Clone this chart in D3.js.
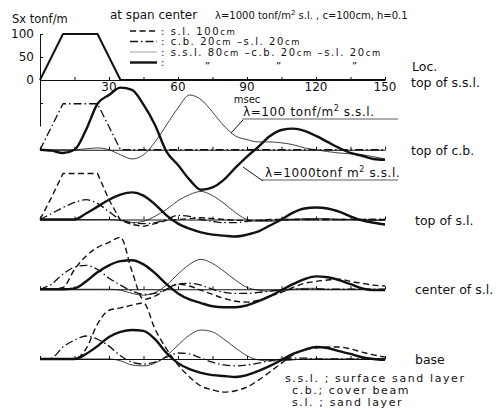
<!DOCTYPE html>
<html>
<head>
<meta charset="utf-8">
<script src="https://cdn.jsdelivr.net/npm/d3@7"></script>
<style>
  body { margin: 0; background: #fff; }
  text { font-family: "DejaVu Sans", "Liberation Sans", sans-serif; fill: #111; }
  .domain, .tick line { stroke: #111; stroke-width: 1; }
</style>
</head>
<body>
<div id="chart"></div>
<script>
// time axis, msec
var times = [0,5,10,15,20,25,30,35,40,45,50,55,60,65,70,75,80,85,90,95,100,105,110,115,120,125,130,135,140,145,150];
var locations = ["top of s.s.l.", "top of c.b.", "top of s.l.", "center of s.l.", "base"];
var tickLabels = [30, 60, 90, 120, 150];

// load at top of s.s.l. (tonf/m)
var loadTop = [0,50,100,100,100,100,50,0,0,0,0,0,0,0,0,0,0,0,0,0,0,0,0,0,0,0,0,0,0,0,0];

// top of c.b.
var cbDashDot = [0,50,100,100,100,100,50,0,0,0,0,0,0,0,0,0,0,0,0,0,0,0,0,0,0,0,0,0,0,0,0];
var cbThin    = [0,0,0,0,2,4,0,-11,-20,-11,17,54,91,119,109,82,52,30,22,17,17,15,11,4,0,-4,-7,-9,-11,-15,-20];
var cbThick   = [0,-2,-7,0,43,100,119,135,130,98,54,-4,-33,-65,-87,-82,-65,-39,-15,7,30,43,46,41,30,17,4,-7,-13,-20,-22];

// top of s.l.
var slDashed  = [0,48,100,100,100,100,43,-2,-11,-15,-9,-2,0,2,4,2,0,-2,-2,-2,0,0,0,0,0,0,0,0,0,0,0];
var slDashDot = [0,13,26,37,43,35,17,0,-7,-9,-7,0,9,7,0,-4,-7,-7,-4,-2,-2,0,0,0,0,0,0,0,0,0,0];
var slThin    = [0,0,0,0,0,0,0,-2,-7,-4,7,22,41,54,61,52,35,15,0,-4,-4,-2,0,2,2,2,0,0,0,-2,-2];
var slThick   = [0,0,0,0,13,28,43,54,59,52,33,9,-9,-20,-28,-33,-35,-37,-33,-26,-13,0,15,24,26,24,17,7,-2,-7,-11];

// center of s.l.
var ctDashed  = [0,0,4,43,72,91,102,113,39,-22,-15,0,11,7,-2,-11,-20,-26,-28,-24,-15,-7,4,13,17,20,22,17,13,9,7];
var ctDashDot = [0,11,33,48,52,43,24,9,-4,-11,-9,0,11,13,9,0,-7,-9,-9,-7,-4,-2,0,0,0,0,0,0,0,0,0];
var ctThin    = [0,0,0,0,0,0,0,-2,-9,-13,-7,9,33,54,65,56,39,20,4,-2,-4,-2,0,2,2,0,0,0,0,0,0];
var ctThick   = [0,0,0,2,17,37,52,61,63,54,35,11,-9,-22,-30,-37,-39,-39,-35,-26,-15,-2,11,22,28,26,20,11,2,-2,-2];

// base
var bsDashed  = [0,0,0,0,22,76,106,111,117,122,65,22,-13,-39,-59,-67,-72,-69,-61,-46,-28,-9,9,20,24,26,26,22,15,9,4];
var bsDashDot = [0,2,26,41,50,43,28,7,-7,-11,-7,4,13,11,2,-7,-13,-15,-13,-9,-4,0,2,2,0,0,0,0,0,0,0];
var bsThin    = [0,0,0,0,0,0,0,-4,-13,-15,-9,7,30,52,63,59,43,24,7,-2,-4,-4,-2,0,0,0,0,0,0,0,0];
var bsThick   = [0,0,0,0,11,28,48,59,63,61,43,13,-9,-22,-30,-35,-37,-39,-35,-26,-15,-2,11,20,26,24,17,11,4,0,-2];

var styles = {
  load:    {w: 2,   dash: null,        linear: true},
  dashed:  {w: 1.4, dash: "6,3.5",     linear: false},
  dashdot: {w: 1.3, dash: "8,3,1.5,3", linear: false},
  thin:    {w: 0.8, dash: null,        linear: false},
  thick:   {w: 2.4, dash: null,        linear: false}
};

var series = [
  {loc: "top of s.s.l.", style: "load", values: loadTop},
  {loc: "top of c.b.", style: "dashdot", values: cbDashDot, linear: true},
  {loc: "top of c.b.", style: "thin", values: cbThin},
  {loc: "top of c.b.", style: "thick", values: cbThick},
  {loc: "top of s.l.", style: "dashed", values: slDashed, linear: true},
  {loc: "top of s.l.", style: "dashdot", values: slDashDot},
  {loc: "top of s.l.", style: "thin", values: slThin},
  {loc: "top of s.l.", style: "thick", values: slThick},
  {loc: "center of s.l.", style: "dashed", values: ctDashed},
  {loc: "center of s.l.", style: "dashdot", values: ctDashDot},
  {loc: "center of s.l.", style: "thin", values: ctThin},
  {loc: "center of s.l.", style: "thick", values: ctThick},
  {loc: "base", style: "dashed", values: bsDashed},
  {loc: "base", style: "dashdot", values: bsDashDot},
  {loc: "base", style: "thin", values: bsThin},
  {loc: "base", style: "thick", values: bsThick}
];

var width = 504, height = 409;

var svg = d3.select("#chart")
  .append("svg")
    .attr("width", width)
    .attr("height", height);

var x = d3.scaleLinear().domain([0, 150]).range([40, 385]);
var row = d3.scalePoint().domain(locations).range([80, 359]);
var amp = d3.scaleLinear().domain([0, 100]).range([0, 46]);

// load axis (left), carried down as an amplitude bar
var yLoad = d3.scaleLinear().domain([-100, 100]).range([row(locations[0]) + 46, row(locations[0]) - 46]);
svg.append("g")
  .attr("transform", "translate(" + x(0) + ",0)")
  .call(d3.axisLeft(yLoad)
    .tickValues([-50, 0, 50, 100])
    .tickSize(-3)
    .tickSizeOuter(0)
    .tickPadding(6)
    .tickFormat(function(d) { return d < 0 ? "" : d; }))
  .call(function(g) { g.selectAll("text").style("font-size", "12px").style("font-family", "DejaVu Sans"); });

// baselines with ticks every 15 msec
locations.forEach(function(loc) {
  svg.append("g")
    .attr("transform", "translate(0," + row(loc) + ")")
    .call(d3.axisTop(x)
      .tickValues(d3.range(0, 151, 15))
      .tickSize(3)
      .tickSizeOuter(0)
      .tickFormat(""));
});

// time labels under the load axis
svg.selectAll(".tlab")
  .data(tickLabels)
  .enter().append("text")
    .attr("x", function(d) { return x(d); })
    .attr("y", row(locations[0]) + 11)
    .attr("text-anchor", "middle")
    .style("font-size", "12px")
    .text(function(d) { return d; });

svg.append("text")
  .attr("x", x(90)).attr("y", 103)
  .attr("text-anchor", "middle")
  .style("font-size", "10px")
  .text("msec");

svg.append("text").attr("x", 12).attr("y", 23).style("font-size", "11.5px").text("Sx  tonf/m");

// curves
series.forEach(function(s) {
  var st = styles[s.style];
  var base = row(s.loc);
  var line = d3.line()
    .x(function(d, i) { return x(times[i]); })
    .y(function(d) { return base - amp(d); })
    .curve(st.linear || s.linear ? d3.curveLinear : d3.curveMonotoneX);
  svg.append("path")
    .datum(s.values)
    .attr("d", line)
    .attr("fill", "none")
    .attr("stroke", "#111")
    .attr("stroke-width", st.w)
    .attr("stroke-linejoin", "round")
    .attr("stroke-dasharray", st.dash);
});

// location labels
svg.append("text").attr("x", 412).attr("y", 71).style("font-size", "12.5px").text("Loc.");
locations.forEach(function(loc) {
  svg.append("text")
    .attr("x", loc == "top of s.s.l." || loc == "top of c.b." ? 411 : 415)
    .attr("y", row(loc) + (loc == "top of s.s.l." ? 7 : 5))
    .style("font-size", "12.5px")
    .text(loc);
});

// legend
svg.append("text").attr("x", 110).attr("y", 19).style("font-size", "12px")
  .text("at span center");
var hdr = svg.append("text").attr("x", 215).attr("y", 19).style("font-size", "10px");
hdr.append("tspan").text("λ=1000 tonf/m");
hdr.append("tspan").attr("dy", -4).style("font-size", "7px").text("2");
hdr.append("tspan").attr("dy", 4).text(" s.l. , c=100cm, h=0.1");

var legendRows = [
  {style: "dashed", parts: [["s.l. 100", 0], ["cm", 1]]},
  {style: "dashdot", parts: [["c.b. 20", 0], ["cm", 1], [" \u2013s.l. 20", 0], ["cm", 1]]},
  {style: "thin", parts: [["s.s.l. 80", 0], ["cm", 1], [" \u2013c.b. 20", 0], ["cm", 1], [" \u2013s.l. 20", 0], ["cm", 1]]},
  {style: "thick", parts: []}
];
legendRows.forEach(function(r, i) {
  var y = 31 + i * 10.5;
  var st = styles[r.style];
  svg.append("line")
    .attr("x1", 130).attr("x2", 157).attr("y1", y).attr("y2", y)
    .attr("stroke", r.style == "thin" ? "#888" : "#111")
    .attr("stroke-width", st.w)
    .attr("stroke-dasharray", st.dash);
  var t = svg.append("text").attr("x", 161).attr("y", y + 3.5)
    .style("font-size", "10px").style("letter-spacing", "1.6px");
  t.append("tspan").text(": ");
  r.parts.forEach(function(p) {
    t.append("tspan").style("font-size", p[1] ? "8.5px" : "10px").text(p[0]);
  });
});
[205, 276, 352].forEach(function(dx) {
  svg.append("text").attr("x", dx).attr("y", 70).style("font-size", "10px").text("\u201D");
});

// annotations for the thin and thick s.s.l. cases
var ann = [
  {x: 243, y: 116, sup: "λ=100 tonf/m", tail: "  s.s.l.", ul: [242, 398], from: [243, 120], to: [231, 133]},
  {x: 265, y: 177, sup: "λ=1000tonf m", tail: "  s.s.l.", ul: [262, 398], from: [263, 181], to: [243, 167]}
];
ann.forEach(function(a) {
  var t = svg.append("text").attr("x", a.x).attr("y", a.y)
    .style("font-size", "12px").style("letter-spacing", "0.6px");
  t.append("tspan").text(a.sup);
  t.append("tspan").attr("dy", -5).style("font-size", "8px").text("2");
  t.append("tspan").attr("dy", 5).text(a.tail);
  svg.append("line")
    .attr("x1", a.ul[0]).attr("x2", a.ul[1]).attr("y1", a.y + 3).attr("y2", a.y + 3)
    .attr("stroke", "#333").attr("stroke-width", 0.8);
  svg.append("line")
    .attr("x1", a.from[0]).attr("y1", a.from[1]).attr("x2", a.to[0]).attr("y2", a.to[1])
    .attr("stroke", "#111").attr("stroke-width", 1);
});

// footnote
var notes = [
  [285, 382, "s.s.l. ; surface  sand layer"],
  [292, 394, "c.b.; cover  beam"],
  [292, 406, "s.l. ; sand  layer"]
];
notes.forEach(function(n) {
  svg.append("text").attr("x", n[0]).attr("y", n[1])
    .style("font-size", "11px").style("letter-spacing", "1.6px").text(n[2]);
});
</script>
</body>
</html>
